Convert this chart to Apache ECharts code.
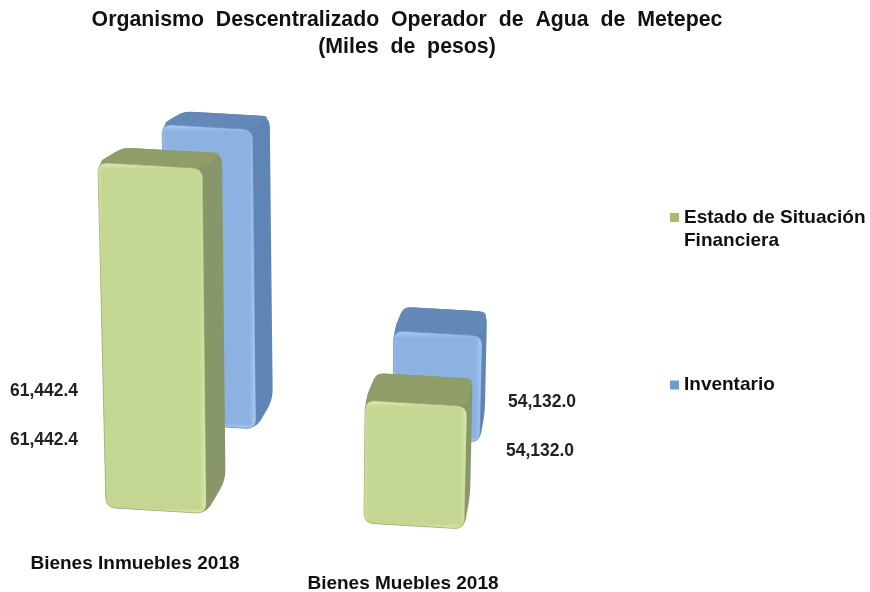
<!DOCTYPE html>
<html><head><meta charset="utf-8">
<style>html,body{margin:0;padding:0;background:#fff}#c{width:870px;height:592px}</style>
<script src="https://cdn.jsdelivr.net/npm/echarts@6/dist/echarts.min.js"></script>
</head><body><div id="c"></div>
<script>
const categories = ['Bienes Inmuebles 2018', 'Bienes Muebles 2018'];
const estadoValues = [61442.4, 54132.0];
const inventarioValues = [61442.4, 54132.0];
const seriesNames = ['Estado de Situación Financiera', 'Inventario'];
const axisMin = 50100, axisMax = 65000;

// drawing constants for the pseudo-3D projection
const V = [581, -125];            // vanishing point of the depth direction
const LEAN = 1.27e-4, LEAN_X = 290, TILT = 0.06, BAR_RATIO = 100 / 258;
const looks = {
  front: {t0: 0, t1: 0.052, main: '#C3D692', light: '#DDECAC', lightA: 'rgba(221,236,172,', edge: '#9FAE7A', top: '#8F9D69', side: '#87976A'},
  back: {t0: 0.1325, t1: 0.178, main: '#8CB2E2', light: '#ABCDF3', lightA: 'rgba(171,205,243,', edge: '#7396C4', top: '#6488B8', side: '#5E85B5'}
};
// where each value label sits relative to its bar's category [dx from band centre, y from baseline]
const labelPos = {
  front: [[-112, -70.5], [126, -59.5]],
  back: [[-112, -119.5], [128, -108.5]]
};

function roundPoly(pts, r) {
  const out = [], n = pts.length;
  for (let i = 0; i < n; i++) {
    const p = pts[i], a = pts[(i + n - 1) % n], b = pts[(i + 1) % n];
    const la = Math.hypot(a[0] - p[0], a[1] - p[1]), lb = Math.hypot(b[0] - p[0], b[1] - p[1]);
    const ra = Math.min(r, la / 2), rb = Math.min(r, lb / 2);
    const s = [p[0] + (a[0] - p[0]) * ra / la, p[1] + (a[1] - p[1]) * ra / la];
    const e = [p[0] + (b[0] - p[0]) * rb / lb, p[1] + (b[1] - p[1]) * rb / lb];
    for (let k = 0; k <= 6; k++) {
      const u = k / 6, v = 1 - u;
      out.push([v * v * s[0] + 2 * u * v * p[0] + u * u * e[0], v * v * s[1] + 2 * u * v * p[1] + u * u * e[1]]);
    }
  }
  return out;
}

function render(look, labelSet) {
  const LG = echarts.graphic.LinearGradient;
  return function (params, api) {
    const idx = api.value(0), val = api.value(1);
    const top = api.coord([idx, val]), base = api.coord([idx, axisMin]);
    const ref = api.coord([0, axisMin])[0];
    const w = api.size([1, 0])[0] * BAR_RATIO;
    const proj = (x, y, t) => {
      const h = base[1] - y;
      const X = x - LEAN * (LEAN_X - x) * h, Y = y + TILT * (x - ref);
      return [X + t * (V[0] - X), Y + t * (V[1] - Y)];
    };
    const L = base[0] - w / 2, R = base[0] + w / 2, T = top[1], B = base[1];
    const a = look.t0, b = look.t1;
    const fTL = proj(L, T, a), fTR = proj(R, T, a), fBR = proj(R, B, a), fBL = proj(L, B, a);
    const bTL = proj(L, T, b), bTR = proj(R, T, b), bBR = proj(R, B, b);
    const poly = (pts, r, style) => ({type: 'polygon', shape: {points: roundPoly(pts, r)}, style});
    const H = fBR[1] - fTR[1], W = fTR[0] - fTL[0];
    const front = [fTL, fTR, fBR, fBL];
    const children = [
      poly([fTL, bTL, bTR, bBR, fBR, fBL], 11, {fill: look.side}),
      poly([fTL, bTL, bTR, fTR], 7, {fill: look.top}),
      poly(front, 10, {
        fill: new LG(0, 0, 0, 1, [
          {offset: 0, color: look.light},
          {offset: 7 / H, color: look.main},
          {offset: 1 - 5 / H, color: look.main},
          {offset: 1, color: look.light}
        ]),
        stroke: look.edge, lineWidth: 0.8
      }),
      poly(front, 10, {
        fill: new LG(0, 0, 1, 0, [
          {offset: 0, color: look.lightA + '0.5)'},
          {offset: 4 / W, color: look.lightA + '0)'},
          {offset: 1 - 6 / W, color: look.lightA + '0)'},
          {offset: 1, color: look.lightA + '0.9)'}
        ])
      })
    ];
    const lp = labelSet[idx];
    children.push({
      type: 'text', z2: 10,
      style: {
        x: base[0] + lp[0], y: base[1] + lp[1],
        text: val.toLocaleString('en-US', {minimumFractionDigits: 1, maximumFractionDigits: 1}),
        fill: '#222', align: 'center', verticalAlign: 'middle',
        font: 'bold 17.5px "Liberation Sans", Arial, sans-serif'
      }
    });
    return {type: 'group', children};
  };
}

const font = '"Liberation Sans", Arial, sans-serif';
const chart = echarts.init(document.getElementById('c'), null, {renderer: 'canvas'});
chart.setOption({
  animation: false,
  backgroundColor: '#fff',
  title: {
    text: 'Organismo  Descentralizado  Operador  de  Agua  de  Metepec\n(Miles  de  pesos)',
    left: 402, top: 2, textAlign: 'center',
    textStyle: {fontFamily: font, fontSize: 21.3, fontWeight: 'bold', color: '#111', lineHeight: 27, align: 'center'}
  },
  grid: {left: 27, width: 516, top: 57.3, height: 453.2, outerBoundsMode: 'none'},
  xAxis: {
    type: 'category', data: categories,
    axisLine: {show: false}, axisTick: {show: false}, splitLine: {show: false},
    axisLabel: {
      interval: 0, margin: 44, color: '#111',
      formatter: (v, i) => i === 0 ? '{a|' + v + '}' : '{b|' + v + '}',
      rich: {
        a: {fontFamily: font, fontSize: 19, fontWeight: 'bold', color: '#111', padding: [0, 42, 0, 0]},
        b: {fontFamily: font, fontSize: 19, fontWeight: 'bold', color: '#111', padding: [20, 22, 0, 0]}
      }
    }
  },
  yAxis: {type: 'value', min: axisMin, max: axisMax, show: false},
  legend: {
    orient: 'vertical', left: 665, top: 178, icon: 'rect',
    itemWidth: 9, itemHeight: 9, itemGap: 121.5,
    data: seriesNames,
    formatter: n => n.indexOf(' Financiera') >= 0 ? '\n' + n.replace(' Financiera', '\nFinanciera') : n,
    textStyle: {fontFamily: font, fontSize: 19, fontWeight: 'bold', color: '#111', lineHeight: 23}
  },
  series: [
    {type: 'custom', name: seriesNames[1], z: 1, clip: false, itemStyle: {color: '#6F9BD0'},
     encode: {x: 0, y: 1}, data: inventarioValues.map((v, i) => [i, v]), renderItem: render(looks.back, labelPos.back)},
    {type: 'custom', name: seriesNames[0], z: 2, clip: false, itemStyle: {color: '#A4BC6E'},
     encode: {x: 0, y: 1}, data: estadoValues.map((v, i) => [i, v]), renderItem: render(looks.front, labelPos.front)}
  ]
});
</script></body></html>
